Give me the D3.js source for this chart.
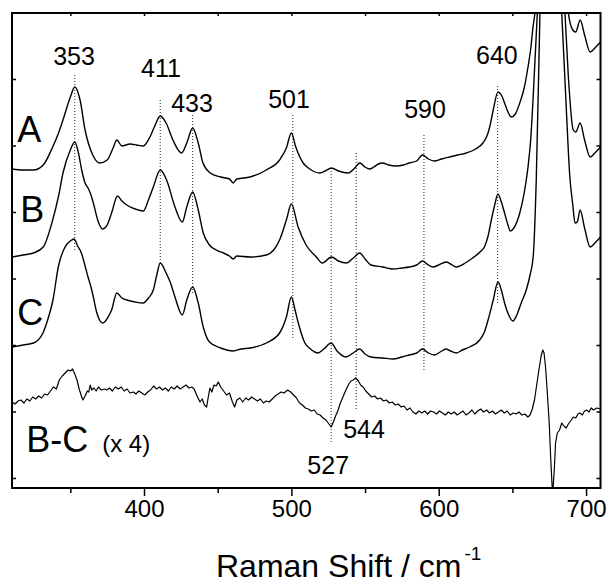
<!DOCTYPE html>
<html>
<head>
<meta charset="utf-8">
<script src="https://cdn.jsdelivr.net/npm/d3@7"></script>
<style>
  html, body { margin: 0; padding: 0; background: #fff; }
  svg { display: block; font-family: "Liberation Sans", Arial, sans-serif; }
</style>
</head>
<body>
<svg id="chart" width="610" height="583"></svg>
<script>
// ---- data: [Raman shift (cm-1), intensity (a.u., traces vertically offset)] ----
const traceA = [
  [310.4,319],[318,318],[325,318],[331.6,323],[338,341],[342,355],[345,368],[350,391],[353,401],
  [356.6,388],[360,358],[364.6,335],[370,325],[375,328],[379,340],[381.5,348],[385,342],[390.5,344],
  [395,343],[399.5,342],[404,351],[407,361],[411,372],[415,365],[419.6,348],[425.5,335],[429,345],
  [433,360],[436.8,345],[440,325],[445,315],[452,311],[458,309],[460.5,305],[463,309],[472,311],
  [483,318],[492,328],[496.6,340],[500,355],[503,341],[508,325],[512.5,319],[519.3,315],[523,317],
  [527.2,320],[532,317],[538.5,315],[543,320],[546.4,325],[550,321],[553,319],[556,321],[559,324],
  [562,325],[566,323],[571.3,322],[576,323],[580,325],[585,327],[589,333],[593,329],[597,327],
  [602,329],[607.4,331],[613,333],[618.7,335],[625,339],[630,345],[633,353],[634.6,361],[637,378],
  [640.2,396],[642.5,393],[644.7,385],[647,376],[649.3,371],[652,374],[655,385],[658,400],[660.6,421],
  [662.5,440],[664,461],[665.3,475],[668,530],[673,900],[680,720],[686,520],[688,475],[691,458],
  [693,456],[696,468],[699,453],[702.8,436],[706,440],[709.8,446]
];
const traceB = [
  [310.4,231],[318,233],[325,235],[331.6,241],[338,268],[342,292],[345,315],[350,338],[353,346],
  [355.5,335],[357.7,318],[360,305],[362,300],[364,293],[365.6,285],[369,266],[372,259],[375,263],
  [378,275],[382,292],[385,287],[388.3,283],[394,279],[399.5,277],[403,288],[406.3,301],[411,318],
  [415.3,308],[421,281],[426,266],[429,281],[433,296],[436.8,278],[440.2,255],[444.4,243],[449,238],
  [453.8,235],[458,232],[460.5,229],[463,232],[472,231],[483,233],[488,238],[492,248],[496.6,268],
  [500,284],[504.6,261],[510,243],[517,231],[521,225],[527.2,231],[532,227],[537.3,225],[542,230],
  [546.4,235],[550,229],[554,223],[562,221],[569,219],[575,220],[580,221],[585,223],[589,227],
  [593,223],[596,221],[600,223],[605,226],[608,224],[612,221],[618,225],[623,230],[628,236],[631,241],
  [633.5,252],[635.7,268],[638,283],[640.2,294],[642.5,286],[644.7,275],[647,263],[648.6,257],
  [651,260],[655,275],[658,295],[660.6,321],[662.5,350],[664,388],[666.8,471],[668,515],[673,900],
  [680,650],[685.7,475],[688,411],[691.3,358],[693,356],[696,365],[699,348],[702.8,331],[706,335],
  [709.8,341]
];
const traceC = [
  [310.4,141],[318,143],[325,145],[331.4,155],[335,170],[338.2,188],[341.8,221],[346.4,241],[350,247],
  [352.5,249],[355,242],[357.5,235],[360,222],[362,211],[364,201],[365.6,191],[368,175],[372,165],
  [376,172],[378,178],[381.5,195],[385,190],[388.3,188],[394,186],[399.5,185],[403,190],[406.3,198],
  [408.5,212],[411,225],[415,215],[418,205],[421,191],[426,173],[429,188],[433,201],[436.8,185],
  [440.2,161],[444.4,146],[452,140],[460.5,137],[466,139],[472,140],[483,145],[492,155],[496.6,171],
  [500,191],[502.5,178],[504.7,165],[509.2,145],[513,139],[518,135],[522,139],[527,145],[531,137],
  [537,131],[542,135],[546.4,139],[550,134],[554,131],[562,130],[569,129],[575,131],[580,133],[585,135],
  [589,139],[593,135],[597,133],[601,136],[605,139],[608,137],[612,135],[616,138],[621,141],
  [627.8,148],[631,156],[633.5,168],[637,188],[640.2,206],[642.5,198],[644.7,185],[647.5,173],
  [650.3,167],[653,173],[656,185],[659.4,198],[662,213],[664.2,233],[666.2,308],[668.7,475],[670,560],
  [673,900],[679,600],[683.5,475],[686,398],[689,311],[691,283],[692.5,265],[694,266],[696,278],
  [699,260],[702.8,241],[706,245],[709.8,251]
];
const traceBC = [
  [310.4,86],[312.5,84],[314.5,87],[316.5,88],[318.5,85],[320.5,89],[322.5,87],[324.5,91],[326.5,89],
  [328.5,92],[330.5,90],[332.5,94],[334.5,93],[336.5,97],[338.5,101],[340.5,99],[342.5,108],[344.5,112],
  [346.5,115],[348.5,118],[350,117],[351.5,119],[353,114],[354.5,108],[356,99],[357.5,92],[358.5,88],
  [360,92],[361.5,97],[362.5,96],[363.5,103],[364.5,98],[366,100],[367.5,97],[369,101],[371,98],
  [373,99],[374.6,98],[376.5,100],[378.5,97],[380.5,101],[382.5,99],[384.5,101],[386.5,97],[388.5,99],
  [390.5,95],[392.8,96],[394.5,94],[396.5,97],[398.5,95],[400.5,93],[402.5,96],[404.5,98],[406.5,102],
  [408.5,99],[410.5,101],[412.5,98],[414.5,100],[416.5,97],[418.5,101],[420.5,99],[422.5,102],
  [424.5,99],[426.5,101],[428.5,103],[430.5,100],[432.5,101],[434,99],[436,92],[438,86],[439.5,89],
  [441,83],[442.5,81],[443.5,90],[444.7,100],[446,96],[447.5,103],[449,102],[450.4,106],[452,101],
  [454,97],[456,93],[458,95],[460,86],[461.5,81],[463,88],[465,90],[467,86],[469,90],[471,88],
  [473,91],[475,89],[477,87],[479,89],[481,85],[483,87],[485,86],[487,89],[489,92],[491,94],[493,96],
  [495,95],[497.5,98],[499.5,96],[501.5,93],[503.5,90],[505.5,85],[507.5,83],[509.5,80],[511.5,79],
  [513.5,77],[515.5,78],[517.5,74],[519.5,73],[521.5,70],[523.5,68],[525.5,64],[527,61],[528.5,66],
  [530,72],[531.5,77],[533,84],[535,91],[537,98],[539,104],[540.5,107],[542,108],[543.7,110],
  [545.5,107],[547,103],[548.7,101],[550.5,97],[552.5,94],[554.5,91],[556.5,92],[558.5,89],[560.5,90],
  [562.5,87],[564.5,88],[566.5,85],[568.5,86],[570.5,83],[572.5,84],[574.5,81],[576.5,82],[578.5,78],
  [580.5,80],[582.5,76],[584.5,74],[586.5,77],[588.5,75],[590.5,77],[592.5,74],[594.5,77],[596.5,76],
  [598.5,74],[600.5,77],[602.5,75],[604.5,73],[606.5,76],[608.5,74],[610.5,76],[612.5,73],[614.5,75],
  [616.5,77],[618.5,73],[620.5,75],[622.5,78],[624.5,74],[626.5,77],[628.5,79],[630.5,76],[632.5,78],
  [634.5,75],[636.5,77],[638.5,74],[640.5,76],[642.5,78],[644.5,75],[646.5,77],[648.5,73],[650.5,75],
  [652.5,74],[654.5,76],[656.5,73],[658.5,74],[660.5,71],[662,73],[663.5,79],[665,88],[666.5,103],
  [668,118],[669.5,132],[670.6,138],[671.5,135],[672.5,121],[673.5,100],[675,65],[676,30],[677.3,-8],
  [678.5,20],[679.3,45],[680.5,55],[682,58],[683.5,65],[685,62],[686.5,60],[688,64],[690,68],
  [691.3,71],[693,70],[694.5,74],[695.8,75],[697.5,73],[699,77],[700.4,78],[702,76],[703.5,80],
  [705,78],[707.3,80],[709.8,79]
];

// peak markers: shift, dotted line from intensity top to bottom
const peakShifts = [353, 411, 433, 501, 527, 544, 590, 640];
const peakTop    = [413, 388, 373, 373, 320, 335, 353, 402];
const peakBottom = [238, 225, 193, 150, 46, 78, 116, 183];

// peak annotations: text, anchor shift, anchor intensity
const peakLabels = ["353", "411", "433", "501", "590", "640", "544", "527"];
const peakLabelShift = [352.5, 411.5, 432.6, 498.4, 590.7, 639.5, 549.3, 525];
const peakLabelValue = [423, 411, 376, 380, 370, 424, 50, 14];

// trace names: text, anchor shift, anchor intensity (baseline)
const traceNames = ["A", "B", "C", "B-C"];
const traceNameShift = [314, 316, 314, 320];
const traceNameValue = [346, 266, 163, 36];

const xDomain = [310.4, 709.8];
const yDomain = [0, 475];
const xMajorTicks = [400, 500, 600, 700];
const xMinorTicks = [350, 450, 550, 650];
const yTicks = d3.range(10, 475, 66.5);

// ---- drawing ----
const svg = d3.select("#chart");
const L = 12, R = 600.5, T = 13, B = 488;
const x = d3.scaleLinear().domain(xDomain).range([L, R]);
const y = d3.scaleLinear().domain(yDomain).range([B, T]);

svg.append("defs").append("clipPath").attr("id", "plotclip")
  .append("rect").attr("x", L).attr("y", T).attr("width", R - L).attr("height", B - T);

const plot = svg.append("g").attr("clip-path", "url(#plotclip)");

// dotted marker lines
plot.selectAll("line.marker").data(peakShifts).join("line")
  .attr("class", "marker")
  .attr("x1", d => x(d)).attr("x2", d => x(d))
  .attr("y1", (d, i) => y(peakTop[i])).attr("y2", (d, i) => y(peakBottom[i]))
  .attr("stroke", "#222").attr("stroke-width", 1).attr("stroke-dasharray", "1,2");

const smooth = d3.line().x(d => x(d[0])).y(d => y(d[1])).curve(d3.curveMonotoneX);
const raw = d3.line().x(d => x(d[0])).y(d => y(d[1]));

[traceA, traceB, traceC].forEach(t => {
  plot.append("path").datum(t).attr("d", smooth)
    .attr("fill", "none").attr("stroke", "#000").attr("stroke-width", 1.4)
    .attr("stroke-linejoin", "round");
});
plot.append("path").datum(traceBC).attr("d", raw)
  .attr("fill", "none").attr("stroke", "#000").attr("stroke-width", 1.2)
  .attr("stroke-linejoin", "round");

// axes
const gBottom = svg.append("g").attr("transform", `translate(0,${B})`);
gBottom.call(d3.axisBottom(x).tickValues(xMajorTicks).tickSize(8).tickPadding(4).tickFormat(d3.format("d")));
gBottom.append("g").call(d3.axisBottom(x).tickValues(xMinorTicks).tickSize(5).tickFormat(""));
const gTop = svg.append("g").attr("transform", `translate(0,${T})`);
gTop.call(d3.axisTop(x).tickValues(xMajorTicks.concat(xMinorTicks)).tickSize(-3).tickFormat(""));
const gLeft = svg.append("g").attr("transform", `translate(${L},0)`);
gLeft.call(d3.axisLeft(y).tickValues(yTicks).tickSize(-4).tickFormat(""));
const gRight = svg.append("g").attr("transform", `translate(${R},0)`);
gRight.call(d3.axisRight(y).tickValues(yTicks).tickSize(-4).tickFormat(""));

svg.selectAll(".domain").remove();
svg.selectAll(".tick line").attr("stroke", "#000").attr("stroke-width", 1.5);
gBottom.selectAll(".tick text").attr("font-size", 24).attr("fill", "#000")
  .attr("font-family", "'Liberation Sans', Arial, sans-serif");

// frame
svg.append("rect").attr("x", L).attr("y", T).attr("width", R - L).attr("height", B - T)
  .attr("fill", "none").attr("stroke", "#000").attr("stroke-width", 2);

// peak labels
svg.selectAll("text.peak").data(peakLabels).join("text")
  .attr("class", "peak")
  .attr("x", (d, i) => x(peakLabelShift[i]))
  .attr("y", (d, i) => y(peakLabelValue[i]))
  .attr("text-anchor", "middle").attr("font-size", 25).attr("fill", "#000")
  .text(d => d);

// trace names
svg.selectAll("text.tname").data(traceNames).join("text")
  .attr("class", "tname")
  .attr("x", (d, i) => x(traceNameShift[i]))
  .attr("y", (d, i) => y(traceNameValue[i]))
  .attr("font-size", 36).attr("fill", "#000")
  .text(d => d);
svg.append("text")
  .attr("x", x(traceNameShift[3]) + 76).attr("y", y(traceNameValue[3]))
  .attr("font-size", 24).attr("fill", "#000").text("(x 4)");

// x axis title
const title = svg.append("text").attr("x", 216).attr("y", 577)
  .attr("font-size", 32).attr("fill", "#000");
title.append("tspan").text("Raman Shift / cm");
title.append("tspan").attr("font-size", 19).attr("dy", -17).attr("dx", 3).text("-1");
</script>
</body>
</html>
